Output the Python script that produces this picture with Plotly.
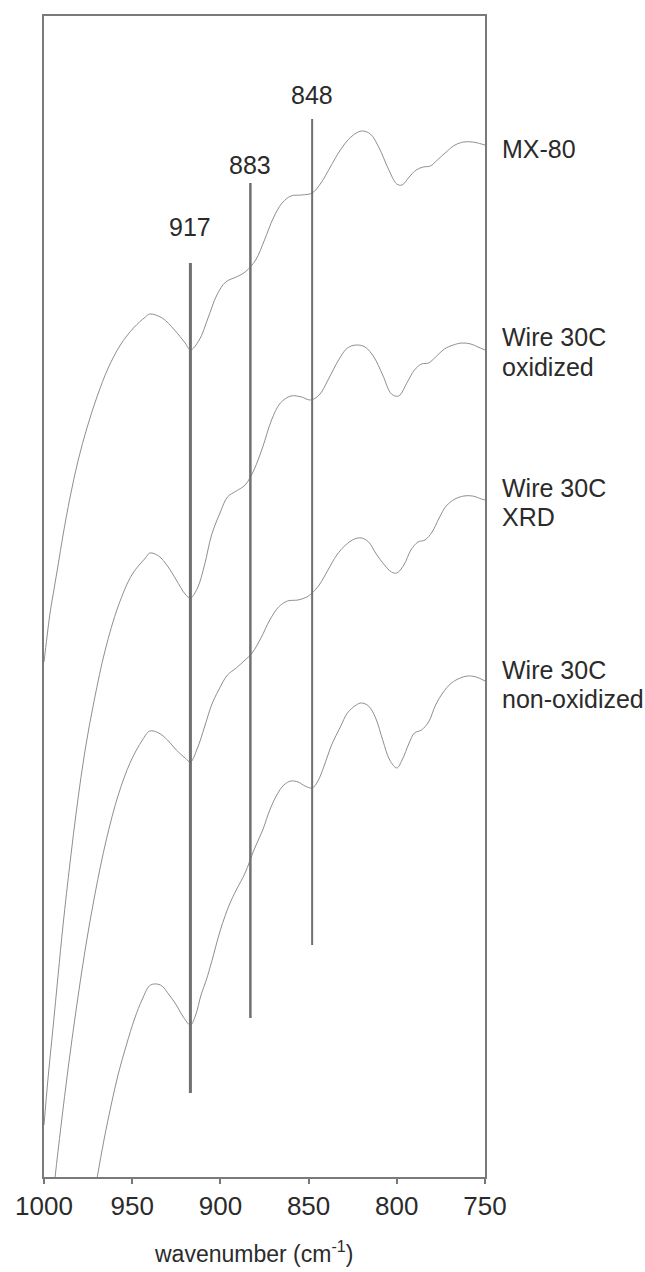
import plotly.graph_objects as go

# ---- data (wavenumber in cm^-1, intensity in arbitrary units) ----
mx80_wn = [1000, 998.3, 996.6, 994.3, 992.0, 989.2, 985.2, 980.6, 975.5, 969.8, 963.6, 956.7, 949.3, 942.5,
           940, 933, 926, 920, 917, 912, 907, 902, 897, 891, 886, 880, 875, 870, 865, 860, 854, 848, 843,
           838, 832, 826, 820, 815, 810, 805, 800, 797, 793, 789, 785, 781, 777, 772, 767, 762, 757, 752, 750]
mx80_y = [0.515, 0.540, 0.564, 0.588, 0.612, 0.642, 0.680, 0.717, 0.750, 0.781, 0.809, 0.832, 0.849, 0.860,
          0.863, 0.859, 0.847, 0.834, 0.827, 0.837, 0.859, 0.882, 0.895, 0.900, 0.905, 0.917, 0.937, 0.959,
          0.974, 0.981, 0.982, 0.984, 0.994, 1.009, 1.027, 1.040, 1.046, 1.043, 1.029, 1.009, 0.993, 0.992,
          1.000, 1.007, 1.010, 1.011, 1.017, 1.025, 1.032, 1.035, 1.035, 1.033, 1.032]

ox_wn = [1000, 997.7, 994.9, 992.0, 989.2, 985.2, 981.2, 976.7, 971.5, 965.3, 957.9, 949.9, 942.5, 940,
         935, 930, 925, 920, 917, 913, 909, 905, 900, 896, 891, 886, 881, 876, 871, 866, 860, 854, 849,
         844, 839, 833, 828, 823, 818, 813, 808, 803, 799, 794, 790, 786, 782, 778, 773, 768, 763, 758,
         754, 750]
ox_y = [0.052, 0.099, 0.149, 0.202, 0.252, 0.315, 0.372, 0.427, 0.477, 0.527, 0.571, 0.603, 0.619, 0.624,
        0.621, 0.611, 0.597, 0.583, 0.579, 0.589, 0.612, 0.642, 0.665, 0.680, 0.686, 0.692, 0.707, 0.730,
        0.757, 0.774, 0.781, 0.780, 0.777, 0.782, 0.797, 0.817, 0.829, 0.832, 0.830, 0.820, 0.802, 0.783,
        0.781, 0.795, 0.807, 0.813, 0.814, 0.820, 0.828, 0.832, 0.834, 0.833, 0.830, 0.827]

xrd_wn = [996.0, 993.7, 990.3, 986.3, 981.8, 976.7, 971.0, 964.7, 957.9, 951.0, 944.2, 940,
          935, 930, 925, 920, 917, 913, 909, 905, 901, 896, 891, 886, 882, 877, 872, 867, 862, 856, 851,
          848, 844, 839, 834, 829, 824, 820, 816, 812, 807, 803, 800, 796, 792, 788, 784, 780, 776, 772,
          767, 762, 757, 752, 750]
xrd_y = [-0.038, 0.000, 0.052, 0.109, 0.167, 0.227, 0.284, 0.337, 0.382, 0.415, 0.437, 0.446,
         0.444, 0.437, 0.427, 0.419, 0.415, 0.429, 0.450, 0.472, 0.487, 0.502, 0.509, 0.517, 0.524, 0.539,
         0.557, 0.570, 0.576, 0.577, 0.580, 0.584, 0.592, 0.607, 0.622, 0.632, 0.638, 0.639, 0.635, 0.624,
         0.612, 0.605, 0.604, 0.612, 0.627, 0.635, 0.637, 0.645, 0.659, 0.671, 0.678, 0.681, 0.681, 0.678,
         0.677]

nonox_wn = [973.8, 969.8, 965.8, 961.8, 957.9, 953.3, 948.7, 944.2, 939.6, 934, 929, 925, 921, 917, 914,
            911, 908, 905, 900, 895, 891, 886, 881, 876, 872, 868, 864, 860, 856, 852, 848, 845, 841, 837,
            832, 828, 823, 820, 816, 812, 808, 804, 800, 797, 793, 790, 786, 782, 778, 774, 769, 764, 760,
            755, 750]
nonox_y = [-0.043, 0.000, 0.039, 0.073, 0.103, 0.132, 0.158, 0.178, 0.192, 0.192, 0.182, 0.172, 0.160,
           0.152, 0.162, 0.182, 0.197, 0.215, 0.247, 0.272, 0.287, 0.304, 0.327, 0.347, 0.367, 0.382, 0.392,
           0.396, 0.395, 0.391, 0.389, 0.395, 0.412, 0.432, 0.450, 0.464, 0.472, 0.474, 0.471, 0.459, 0.437,
           0.417, 0.409, 0.417, 0.434, 0.444, 0.447, 0.455, 0.472, 0.484, 0.494, 0.499, 0.501, 0.500, 0.496]

# series labels, one entry per text line
label_lines = ["MX-80", "Wire 30C", "oxidized", "Wire 30C", "XRD", "Wire 30C", "non-oxidized"]
label_line_y = [1.028, 0.840, 0.810, 0.689, 0.660, 0.507, 0.478]

marker_wn = [917, 883, 848]
marker_low = [0.084, 0.159, 0.232]
marker_high = [0.914, 0.994, 1.058]
marker_label_y = [0.950, 1.012, 1.082]
marker_width = [3, 2.5, 2]

tick_vals = [1000, 950, 900, 850, 800, 750]
x_title = "wavenumber (cm<sup>-1</sup>)"

# ---- figure ----
FONT = "Liberation Sans, Arial, sans-serif"
TXT = "#2b2b2b"
fig = go.Figure()

for wn, yv in [(mx80_wn, mx80_y), (ox_wn, ox_y), (xrd_wn, xrd_y), (nonox_wn, nonox_y)]:
    fig.add_trace(go.Scatter(x=wn, y=yv, mode="lines", line=dict(color="#8f8f8f", width=1, shape="spline"),
                             showlegend=False, hoverinfo="skip"))

for wn, lo, hi, w in zip(marker_wn, marker_low, marker_high, marker_width):
    fig.add_trace(go.Scatter(x=[wn, wn], y=[lo, hi], mode="lines", line=dict(color="#707070", width=w),
                             showlegend=False, hoverinfo="skip"))

for wn, ly in zip(marker_wn, marker_label_y):
    fig.add_annotation(x=wn, y=ly, text=str(wn), showarrow=False, xanchor="center", yanchor="middle",
                       font=dict(family=FONT, size=25, color=TXT))

for txt, ly in zip(label_lines, label_line_y):
    fig.add_annotation(xref="paper", x=1.034, y=ly, text=txt, showarrow=False, xanchor="left",
                       yanchor="middle", align="left",
                       font=dict(family=FONT, size=25, color=TXT))

# x-axis title placed below the tick labels
fig.add_annotation(xref="paper", yref="paper", x=0.476, y=-0.0795, text=x_title, showarrow=False,
                   xanchor="center", yanchor="bottom", font=dict(family=FONT, size=23, color=TXT))

fig.update_layout(
    width=645, height=1272,
    margin=dict(l=44, r=160, t=16, b=95),
    paper_bgcolor="white", plot_bgcolor="white",
    font=dict(family=FONT, color=TXT),
)
fig.update_xaxes(
    range=[1000, 750], tickvals=tick_vals, ticktext=[str(v) for v in tick_vals],
    ticks="outside", ticklen=5, tickwidth=1.5, tickcolor="#777777",
    showline=True, linecolor="#7a7a7a", linewidth=2, mirror=True,
    showgrid=False, zeroline=False,
    tickfont=dict(family=FONT, size=26, color=TXT),
)
fig.update_yaxes(
    range=[0, 1.161], showticklabels=False, ticks="",
    showline=True, linecolor="#7a7a7a", linewidth=2, mirror=True,
    showgrid=False, zeroline=False,
)

fig.write_html("out.html")
